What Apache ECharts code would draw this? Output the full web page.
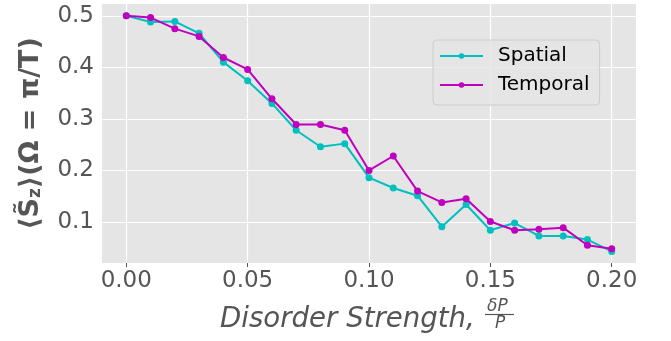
<!DOCTYPE html>
<html>
<head>
<meta charset="utf-8">
<script src="https://cdn.jsdelivr.net/npm/echarts@6/dist/echarts.min.js"></script>
<style>
html,body{margin:0;padding:0;background:#fff;}
#chart{width:671px;height:341px;}
</style>
</head>
<body>
<div id="chart"></div>
<script>
const disorder = [0.00,0.01,0.02,0.03,0.04,0.05,0.06,0.07,0.08,0.09,0.10,0.11,0.12,0.13,0.14,0.15,0.16,0.17,0.18,0.19,0.20];
const spatial  = [0.500,0.488,0.489,0.466,0.410,0.374,0.330,0.278,0.246,0.252,0.186,0.166,0.151,0.091,0.134,0.084,0.098,0.073,0.073,0.066,0.043];
const temporal = [0.500,0.4965,0.475,0.460,0.419,0.396,0.339,0.289,0.289,0.278,0.200,0.228,0.160,0.138,0.145,0.101,0.084,0.086,0.089,0.055,0.048];
const xTicks = [0.00,0.05,0.10,0.15,0.20];
const yTicks = [0.1,0.2,0.3,0.4,0.5];
const seriesNames = ['Spatial','Temporal'];

const TXT = '#555555';
const FONT = 'DejaVu Sans';

const chart = echarts.init(document.getElementById('chart'), null, {renderer:'canvas'});

function pairs(xs, ys){ return xs.map((x,i)=>[x, ys[i]]); }

const gridLines = [
  ...xTicks.map(v=>({xAxis:v})),
  ...yTicks.map(v=>({yAxis:v}))
];

chart.setOption({
  animation:false,
  backgroundColor:'#ffffff',
  grid:{left:102,right:35,top:4,bottom:78,show:true,backgroundColor:'#E5E5E5',borderWidth:0,containLabel:false},
  xAxis:{
    type:'value',min:-0.01,max:0.21,
    axisLine:{show:false},
    splitLine:{show:false},
    axisTick:{show:true,customValues:xTicks,length:4,lineStyle:{color:TXT,width:1}},
    axisLabel:{customValues:xTicks,formatter:v=>v.toFixed(2),color:TXT,fontFamily:FONT,fontSize:23,margin:7}
  },
  yAxis:{
    type:'value',min:0.0205,max:0.5228,
    axisLine:{show:false},
    splitLine:{show:false},
    axisTick:{show:true,customValues:yTicks,length:4,lineStyle:{color:TXT,width:1}},
    axisLabel:{customValues:yTicks,formatter:v=>v.toFixed(1),color:TXT,fontFamily:FONT,fontSize:23,margin:8},
    name:'⟨S̃{sub|z}⟩(Ω = π/T)',
    nameLocation:'middle',nameRotate:90,nameGap:58,
    nameTextStyle:{
      color:TXT,fontFamily:FONT,fontSize:27,fontWeight:'bold',
      rich:{sub:{fontSize:17,fontWeight:'bold',fontFamily:FONT,color:TXT,verticalAlign:'bottom',padding:[8,0,0,0]}}
    }
  },
  legend:{
    show:true,orient:'vertical',left:433,top:40,
    padding:[5,10,9,6],itemGap:7,itemWidth:43,itemHeight:7,
    backgroundColor:'rgba(229,229,229,0.8)',borderColor:'#cccccc',borderWidth:1,borderRadius:4,
    textStyle:{color:'#000000',fontFamily:FONT,fontSize:20,padding:[0,0,0,10],lineHeight:22},
    data:seriesNames
  },
  series:[
    {
      type:'line',name:'__grid',data:[],silent:true,z:1,
      markLine:{silent:true,symbol:['none','none'],label:{show:false},z:1,animation:false,
        lineStyle:{color:'#ffffff',width:1.2,type:'solid'},emphasis:{disabled:true},data:gridLines}
    },
    {
      type:'line',name:seriesNames[0],data:pairs(disorder,spatial),z:3,
      symbol:'circle',symbolSize:7,showSymbol:true,
      itemStyle:{color:'#00bfbf'},lineStyle:{color:'#00bfbf',width:2}
    },
    {
      type:'line',name:seriesNames[1],data:pairs(disorder,temporal),z:4,
      symbol:'circle',symbolSize:7,showSymbol:true,
      itemStyle:{color:'#bf00bf'},lineStyle:{color:'#bf00bf',width:2}
    }
  ],
  graphic:[
    {type:'text',left:220,top:306,silent:true,
     style:{text:'Disorder Strength,',fill:TXT,font:'italic 27.6px "DejaVu Sans"'}},
    {type:'text',left:487,top:298,silent:true,
     style:{text:'δP',fill:TXT,font:'italic 17px "DejaVu Sans"'}},
    {type:'line',silent:true,shape:{x1:485,y1:314.5,x2:514,y2:314.5},style:{stroke:TXT,lineWidth:1.2}},
    {type:'text',left:495,top:315,silent:true,
     style:{text:'P',fill:TXT,font:'italic 17px "DejaVu Sans"'}}
  ]
});
</script>
</body>
</html>
